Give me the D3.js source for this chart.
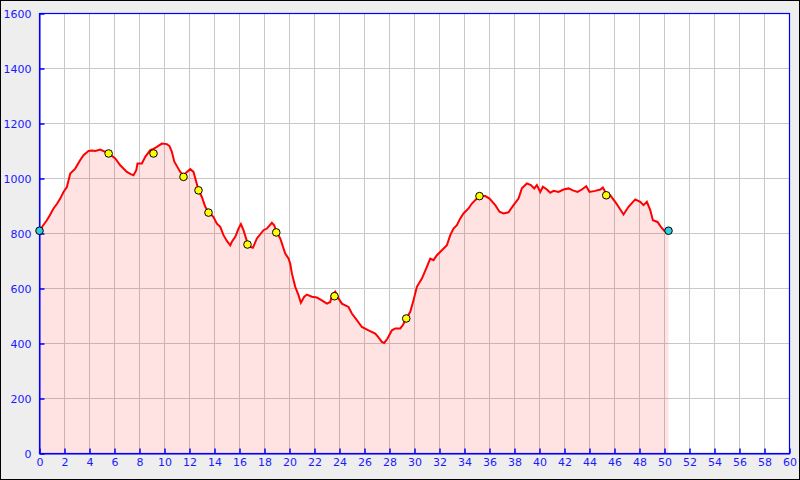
<!DOCTYPE html>
<html>
<head>
<meta charset="utf-8">
<script src="https://cdn.jsdelivr.net/npm/d3@7"></script>
<style>
  html, body { margin: 0; padding: 0; background: #eeeeee; }
  svg { display: block; }
</style>
</head>
<body>
<svg id="chart" width="800" height="480"></svg>
<script>
// ---- data ----
const distances = [0,0.3,0.59,0.85,1.12,1.4,1.66,1.92,2.19,2.46,2.86,3.26,3.52,3.92,4.2,4.46,4.86,5.26,5.53,6.06,6.46,6.99,7.3,7.52,7.74,7.84,8.19,8.46,8.86,9.12,9.39,9.79,10.19,10.4,10.59,10.78,10.99,11.26,11.52,11.79,12.06,12.32,12.59,12.72,12.99,13.26,13.52,13.92,14.19,14.46,14.72,14.99,15.26,15.39,15.66,15.92,16.11,16.32,16.64,16.86,17.07,17.39,17.92,18.19,18.59,18.78,18.94,19.26,19.66,19.92,20.06,20.19,20.46,20.72,20.91,21.18,21.39,21.79,22.19,22.59,22.99,23.26,23.39,23.66,23.92,24.19,24.72,24.99,25.39,25.79,26.32,26.86,27.12,27.39,27.58,27.84,28.19,28.46,28.86,29.07,29.34,29.66,29.92,30.19,30.59,30.99,31.26,31.52,31.79,32.19,32.59,32.86,33.12,33.39,33.66,33.92,34.32,34.59,34.99,35.2,35.66,36.0,36.46,36.8,37.12,37.52,37.92,38.32,38.59,38.99,39.31,39.58,39.79,40.06,40.27,40.59,40.86,41.12,41.52,41.92,42.32,42.67,43.04,43.39,43.74,44.0,44.46,44.86,45.07,45.34,45.66,46.06,46.32,46.72,47.12,47.66,48.06,48.32,48.59,48.86,49.07,49.44,49.71,49.98,50.32];
const elevations = [812,830,848,868,891,908,927,951,969,1018,1036,1067,1085,1100,1102,1100,1105,1097,1091,1073,1048,1024,1016,1012,1030,1055,1055,1079,1103,1108,1115,1127,1125,1118,1097,1062,1045,1024,1012,1024,1034,1024,980,957,933,897,879,860,836,824,794,773,757,770,788,818,834,812,765,751,748,782,812,818,839,830,806,782,727,709,690,655,606,576,548,570,578,570,567,557,545,551,576,588,564,545,533,509,485,460,448,436,422,406,402,418,448,455,455,467,491,515,557,606,636,679,709,703,721,739,757,794,818,830,855,873,891,909,927,936,936,927,903,879,873,877,903,927,964,982,976,964,976,951,970,960,948,955,951,960,964,957,951,960,972,951,955,960,967,945,939,915,897,869,897,924,915,903,915,885,848,842,824,810,810];
const waypointDist = [5.53,9.12,11.52,12.72,13.52,16.64,18.94,23.6,29.34,35.2,45.34];
const waypointElev = [1091,1091,1006,957,876,760,804,572,491,936,939];
const endpointDist = [0,50.32];
const endpointElev = [810,810];
const xTicks = d3.range(0, 61, 2);
const yTicks = d3.range(0, 1601, 200);

// ---- chart ----
(function () {
const svg = d3.select("#chart");
const W = 800, H = 480;
const pL = 39.5, pR = 789.5, pT = 13.5, pB = 453.5;

svg.append("rect").attr("x", 0.5).attr("y", 0.5).attr("width", W - 1).attr("height", H - 1)
  .attr("fill", "#eeeeee").attr("stroke", "#000").attr("stroke-width", 1);

const x = d3.scaleLinear().domain([0, 60]).range([pL, pR]);
const y = d3.scaleLinear().domain([0, 1600]).range([pB, pT]);

svg.append("rect").attr("x", pL).attr("y", pT).attr("width", pR - pL).attr("height", pB - pT)
  .attr("fill", "#ffffff");

// grid
const grid = svg.append("g").attr("stroke", "#c8c8c8").attr("stroke-width", 1);
grid.selectAll("line.v").data(xTicks).join("line").attr("class", "v")
  .attr("x1", d => x(d)).attr("x2", d => x(d)).attr("y1", pT).attr("y2", pB);
grid.selectAll("line.h").data(yTicks).join("line").attr("class", "h")
  .attr("y1", d => y(d)).attr("y2", d => y(d)).attr("x1", pL).attr("x2", pR);

const pts = distances.map((d, i) => [d, elevations[i]]);

// area
svg.append("path").datum(pts)
  .attr("d", d3.area().x(d => x(d[0])).y0(y(0)).y1(d => y(d[1])))
  .attr("fill", "rgb(255,0,0)").attr("fill-opacity", 0.11);

// line
svg.append("path").datum(pts)
  .attr("d", d3.line().x(d => x(d[0])).y(d => y(d[1])))
  .attr("fill", "none").attr("stroke", "#ff0000").attr("stroke-width", 2)
  .attr("stroke-linejoin", "miter");

// frame
svg.append("rect").attr("x", pL).attr("y", pT).attr("width", pR - pL).attr("height", pB - pT)
  .attr("fill", "none").attr("stroke", "#0000ff").attr("stroke-width", 1.2);

// axes
const blue = "#1a1aff";
const fmt = d3.format("d");
const xAxis = d3.axisBottom(x).tickValues(xTicks).tickFormat(fmt).tickSizeInner(-5).tickSizeOuter(0).tickPadding(5);
const gx = svg.append("g").attr("transform", `translate(0,${pB})`).call(xAxis);
const yAxis = d3.axisLeft(y).tickValues(yTicks).tickFormat(fmt).tickSizeInner(-5).tickSizeOuter(0).tickPadding(8);
const gy = svg.append("g").attr("transform", `translate(${pL},0)`).call(yAxis);
[gx, gy].forEach(g => {
  g.select(".domain").attr("stroke", "#0000ff");
  g.selectAll(".tick line").attr("stroke", "#0000ff").attr("stroke-width", 1.5);
  g.selectAll(".tick text").attr("fill", blue)
    .style("font-family", "DejaVu Sans, sans-serif").style("font-size", "11px");
});

// markers
svg.selectAll("circle.wp").data(waypointDist.map((d, i) => [d, waypointElev[i]])).join("circle")
  .attr("class", "wp")
  .attr("cx", d => x(d[0])).attr("cy", d => y(d[1])).attr("r", 3.8)
  .attr("fill", "#ffff00").attr("stroke", "#000").attr("stroke-width", 1);
svg.selectAll("circle.ep").data(endpointDist.map((d, i) => [d, endpointElev[i]])).join("circle")
  .attr("class", "ep")
  .attr("cx", d => x(d[0])).attr("cy", d => y(d[1])).attr("r", 3.8)
  .attr("fill", "#33ccdd").attr("stroke", "#000").attr("stroke-width", 1);
})();
</script>
</body>
</html>
